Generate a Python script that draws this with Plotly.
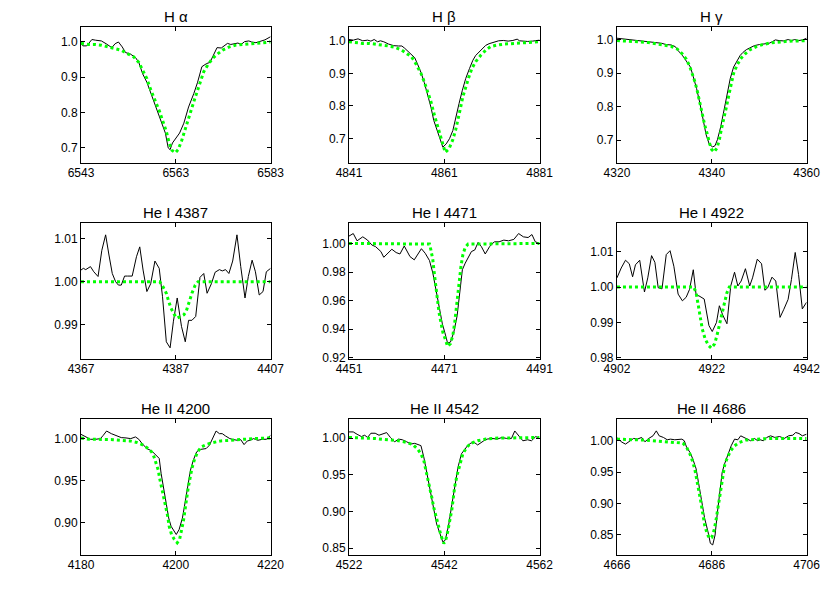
import plotly.graph_objects as go

ha_obs_x = [6543.0, 6543.4, 6544.2, 6545.3, 6546.1, 6547.3, 6548.3, 6549.5, 6550.2, 6550.9, 6551.7, 6552.4, 6553.4, 6554.5, 6555.2, 6556.0, 6556.9, 6557.9, 6558.9, 6559.9, 6560.8, 6561.4, 6561.8, 6562.3, 6563.0, 6563.8, 6564.7, 6565.7, 6566.8, 6567.6, 6568.5, 6569.5, 6570.2, 6570.9, 6571.7, 6572.6, 6573.2, 6573.9, 6574.6, 6575.3, 6576.1, 6576.8, 6577.5, 6578.4, 6579.0, 6579.9, 6580.7, 6581.8, 6583.0]
ha_obs_y = [1.000, 0.989, 0.989, 1.007, 1.005, 1.003, 0.995, 0.984, 0.995, 1.000, 0.986, 0.970, 0.966, 0.956, 0.942, 0.910, 0.886, 0.849, 0.816, 0.779, 0.742, 0.700, 0.695, 0.714, 0.728, 0.742, 0.770, 0.816, 0.854, 0.886, 0.930, 0.939, 0.942, 0.961, 0.984, 0.983, 0.989, 0.996, 0.993, 0.995, 0.997, 0.993, 1.001, 1.003, 1.000, 0.998, 1.001, 1.006, 1.015]
ha_fit_x = [6543.0, 6544.6, 6545.9, 6547.3, 6548.7, 6550.0, 6551.4, 6552.8, 6554.1, 6555.2, 6556.0, 6556.9, 6557.5, 6558.2, 6558.9, 6559.6, 6560.3, 6561.0, 6561.6, 6562.2, 6562.9, 6563.5, 6564.2, 6564.8, 6565.5, 6566.2, 6566.9, 6567.6, 6568.3, 6568.9, 6569.8, 6570.8, 6571.9, 6572.9, 6574.3, 6575.6, 6577.3, 6579.0, 6580.7, 6583.0]
ha_fit_y = [0.996, 0.993, 0.993, 0.991, 0.986, 0.982, 0.977, 0.967, 0.958, 0.942, 0.919, 0.896, 0.872, 0.849, 0.826, 0.802, 0.774, 0.747, 0.714, 0.693, 0.686, 0.695, 0.719, 0.747, 0.774, 0.805, 0.835, 0.865, 0.893, 0.916, 0.936, 0.954, 0.967, 0.977, 0.986, 0.991, 0.993, 0.995, 0.997, 1.000]

hb_obs_x = [4841.0, 4841.9, 4842.9, 4843.9, 4844.9, 4845.6, 4846.3, 4847.0, 4847.6, 4848.3, 4849.3, 4850.4, 4851.4, 4852.1, 4852.7, 4853.4, 4854.1, 4854.8, 4855.4, 4856.1, 4856.8, 4857.5, 4858.2, 4858.8, 4859.5, 4860.2, 4860.7, 4861.4, 4862.1, 4862.8, 4863.4, 4864.1, 4864.8, 4865.5, 4866.3, 4867.0, 4867.6, 4868.3, 4869.0, 4869.7, 4870.4, 4871.4, 4872.4, 4873.4, 4874.4, 4875.4, 4876.3, 4876.8, 4877.5, 4878.5, 4879.5, 4880.2, 4881.0]
hb_obs_y = [1.004, 1.002, 1.006, 1.000, 1.002, 0.999, 1.004, 0.997, 1.000, 0.997, 0.990, 0.985, 0.984, 0.984, 0.977, 0.968, 0.958, 0.948, 0.928, 0.903, 0.872, 0.837, 0.796, 0.755, 0.724, 0.699, 0.673, 0.683, 0.699, 0.724, 0.766, 0.807, 0.848, 0.884, 0.915, 0.940, 0.955, 0.966, 0.976, 0.986, 0.991, 0.996, 1.000, 1.001, 0.999, 1.001, 1.005, 1.000, 0.999, 0.998, 0.999, 1.000, 1.002]
hb_fit_x = [4841.0, 4842.6, 4843.9, 4845.3, 4846.6, 4848.0, 4849.3, 4850.7, 4852.1, 4853.1, 4854.1, 4854.8, 4855.4, 4856.1, 4856.8, 4857.5, 4858.2, 4858.8, 4859.5, 4860.2, 4860.9, 4861.2, 4862.0, 4862.8, 4863.4, 4863.9, 4864.4, 4864.9, 4865.5, 4866.2, 4866.8, 4867.6, 4868.7, 4869.7, 4870.7, 4872.1, 4873.7, 4875.4, 4877.1, 4879.2, 4881.0]
hb_fit_y = [0.997, 0.994, 0.992, 0.992, 0.990, 0.987, 0.984, 0.980, 0.971, 0.961, 0.951, 0.936, 0.920, 0.900, 0.874, 0.844, 0.813, 0.778, 0.742, 0.711, 0.675, 0.657, 0.668, 0.696, 0.727, 0.757, 0.793, 0.828, 0.859, 0.890, 0.915, 0.936, 0.956, 0.971, 0.982, 0.987, 0.990, 0.992, 0.994, 0.996, 0.997]

hg_obs_x = [4320.0, 4321.2, 4322.6, 4323.9, 4325.3, 4326.6, 4328.0, 4329.4, 4330.4, 4331.4, 4332.3, 4332.9, 4333.8, 4334.6, 4335.5, 4336.1, 4336.8, 4337.5, 4338.2, 4338.8, 4339.5, 4340.2, 4340.7, 4341.2, 4341.9, 4342.6, 4343.3, 4343.9, 4344.6, 4345.3, 4346.0, 4346.6, 4347.3, 4348.0, 4349.0, 4350.0, 4351.1, 4352.1, 4352.7, 4353.4, 4354.2, 4355.1, 4356.1, 4356.8, 4357.5, 4358.3, 4359.2, 4360.0]
hg_obs_y = [1.004, 1.002, 0.999, 0.997, 0.995, 0.994, 0.992, 0.989, 0.985, 0.984, 0.979, 0.967, 0.953, 0.938, 0.918, 0.889, 0.854, 0.810, 0.761, 0.717, 0.687, 0.680, 0.684, 0.702, 0.741, 0.790, 0.840, 0.884, 0.918, 0.938, 0.953, 0.962, 0.970, 0.975, 0.982, 0.985, 0.987, 0.989, 0.993, 0.999, 0.997, 0.996, 1.000, 0.997, 1.000, 0.997, 0.999, 1.004]
hg_fit_x = [4320.0, 4321.6, 4323.3, 4324.9, 4326.6, 4328.3, 4330.0, 4331.4, 4332.7, 4333.8, 4334.6, 4335.3, 4335.9, 4336.5, 4337.0, 4337.5, 4338.0, 4338.5, 4339.1, 4339.5, 4340.0, 4340.5, 4341.1, 4341.6, 4342.0, 4342.6, 4343.1, 4343.6, 4344.1, 4344.6, 4345.3, 4346.1, 4347.0, 4348.0, 4349.4, 4350.7, 4352.4, 4354.1, 4356.1, 4358.2, 4360.0]
hg_fit_y = [0.997, 0.995, 0.994, 0.993, 0.991, 0.987, 0.984, 0.980, 0.972, 0.957, 0.942, 0.922, 0.897, 0.872, 0.843, 0.810, 0.780, 0.746, 0.716, 0.692, 0.672, 0.665, 0.677, 0.702, 0.731, 0.766, 0.800, 0.835, 0.869, 0.899, 0.923, 0.943, 0.957, 0.969, 0.979, 0.985, 0.990, 0.993, 0.995, 0.996, 0.997]

he4387_obs_x = [4367.0, 4367.5, 4368.0, 4369.0, 4369.7, 4370.6, 4371.4, 4372.2, 4372.9, 4373.6, 4374.3, 4374.9, 4375.5, 4376.2, 4376.8, 4377.8, 4378.7, 4379.4, 4380.1, 4380.9, 4381.7, 4382.6, 4383.5, 4384.2, 4385.0, 4385.8, 4386.5, 4387.3, 4388.2, 4389.0, 4389.7, 4390.4, 4391.2, 4392.1, 4392.9, 4393.6, 4394.5, 4395.3, 4396.2, 4396.8, 4397.5, 4398.2, 4399.0, 4399.9, 4400.7, 4401.6, 4402.3, 4403.1, 4403.8, 4404.6, 4405.4, 4406.1, 4407.0]
he4387_obs_y = [1.0027, 1.0031, 1.0028, 1.0035, 1.0023, 1.0012, 1.0073, 1.0109, 1.0062, 1.0019, 1.0000, 0.9992, 0.9992, 1.0013, 1.0013, 1.0013, 1.0058, 1.0081, 1.0027, 0.9977, 0.9995, 1.0048, 1.0031, 0.9965, 0.9860, 0.9846, 0.9908, 0.9962, 0.9896, 0.9860, 0.9910, 0.9910, 0.9919, 1.0010, 1.0019, 0.9973, 0.9995, 1.0022, 1.0028, 1.0025, 1.0028, 1.0019, 1.0048, 1.0109, 1.0035, 0.9962, 1.0012, 1.0050, 1.0023, 0.9969, 0.9977, 1.0023, 1.0031]
he4387_fit_x = [4367.0, 4383.6, 4384.3, 4385.0, 4385.5, 4386.0, 4386.7, 4387.3, 4388.0, 4388.7, 4389.2, 4389.7, 4390.4, 4391.1, 4391.7, 4407.0]
he4387_fit_y = [1.0000, 1.0000, 0.9988, 0.9973, 0.9954, 0.9938, 0.9923, 0.9915, 0.9919, 0.9923, 0.9931, 0.9950, 0.9973, 0.9992, 1.0000, 1.0000]

he4471_obs_x = [4451.0, 4451.9, 4452.7, 4453.9, 4454.9, 4455.8, 4456.6, 4457.7, 4458.3, 4459.2, 4460.0, 4460.9, 4461.7, 4462.6, 4463.8, 4464.7, 4465.4, 4466.2, 4467.0, 4467.9, 4468.6, 4469.2, 4469.9, 4470.6, 4471.1, 4471.7, 4472.3, 4473.0, 4473.7, 4474.3, 4474.8, 4475.4, 4476.0, 4476.7, 4477.4, 4478.1, 4478.8, 4479.6, 4480.5, 4481.5, 4482.5, 4483.5, 4484.5, 4485.6, 4486.6, 4487.6, 4488.6, 4489.4, 4490.1, 4491.0]
he4471_obs_y = [1.0051, 1.0069, 1.0018, 1.0046, 1.0023, 0.9989, 0.9977, 0.9943, 0.9903, 0.9931, 0.9959, 0.9936, 0.9926, 0.9982, 0.9908, 0.9885, 0.9920, 0.9963, 0.9931, 0.9880, 0.9793, 0.9690, 0.9552, 0.9437, 0.9379, 0.9303, 0.9310, 0.9379, 0.9494, 0.9678, 0.9816, 0.9862, 0.9897, 0.9943, 0.9954, 1.0007, 0.9977, 0.9926, 0.9977, 1.0011, 1.0011, 1.0023, 1.0018, 1.0028, 1.0069, 1.0046, 1.0041, 1.0062, 1.0011, 1.0000]
he4471_fit_x = [4451.0, 4467.9, 4468.2, 4468.6, 4468.9, 4469.2, 4469.6, 4469.9, 4470.3, 4470.7, 4471.3, 4471.7, 4472.3, 4472.8, 4473.2, 4473.5, 4473.9, 4474.2, 4474.5, 4474.9, 4475.4, 4476.0, 4491.0]
he4471_fit_y = [1.0000, 0.9995, 0.9954, 0.9885, 0.9793, 0.9701, 0.9609, 0.9517, 0.9448, 0.9379, 0.9322, 0.9280, 0.9299, 0.9356, 0.9448, 0.9540, 0.9632, 0.9747, 0.9839, 0.9920, 0.9972, 0.9995, 1.0000]

he4922_obs_x = [4902.0, 4902.9, 4903.8, 4904.6, 4905.3, 4905.9, 4906.8, 4907.8, 4908.5, 4909.3, 4910.0, 4910.7, 4911.5, 4912.4, 4913.2, 4914.0, 4914.9, 4915.8, 4916.6, 4917.3, 4918.1, 4918.7, 4919.3, 4920.4, 4921.4, 4922.1, 4923.0, 4923.6, 4924.3, 4925.2, 4926.0, 4926.8, 4927.5, 4928.2, 4929.1, 4930.0, 4930.6, 4931.6, 4932.5, 4933.2, 4933.8, 4934.7, 4935.5, 4936.4, 4937.2, 4938.1, 4938.8, 4939.6, 4940.3, 4941.1, 4942.0]
he4922_obs_y = [1.0026, 1.0054, 1.0076, 1.0066, 1.0029, 1.0063, 1.0076, 0.9986, 1.0026, 1.0089, 1.0070, 0.9998, 0.9995, 1.0092, 1.0103, 1.0059, 0.9980, 0.9961, 0.9971, 0.9993, 1.0049, 0.9977, 0.9975, 0.9966, 0.9891, 0.9874, 0.9900, 0.9947, 0.9921, 0.9896, 1.0003, 1.0042, 1.0003, 1.0017, 1.0052, 1.0003, 1.0026, 1.0079, 1.0066, 0.9991, 0.9998, 1.0028, 1.0017, 0.9914, 0.9937, 0.9965, 1.0021, 1.0098, 1.0036, 0.9938, 0.9957]
he4922_fit_x = [4902.0, 4918.2, 4918.7, 4919.1, 4919.6, 4920.0, 4920.6, 4921.3, 4921.9, 4922.6, 4923.1, 4923.6, 4924.1, 4924.7, 4925.2, 4925.7, 4942.0]
he4922_fit_y = [1.0000, 1.0000, 0.9984, 0.9951, 0.9914, 0.9881, 0.9853, 0.9835, 0.9827, 0.9839, 0.9863, 0.9895, 0.9923, 0.9956, 0.9984, 1.0000, 1.0000]

he4200_obs_x = [4180.0, 4181.0, 4182.0, 4183.1, 4184.1, 4184.7, 4185.4, 4186.4, 4187.5, 4188.5, 4189.5, 4190.5, 4191.5, 4192.2, 4192.9, 4193.9, 4194.9, 4195.9, 4196.5, 4196.9, 4197.4, 4198.0, 4198.5, 4199.0, 4199.7, 4200.1, 4200.7, 4201.4, 4202.0, 4202.6, 4203.1, 4203.7, 4204.4, 4205.1, 4205.8, 4206.4, 4207.1, 4207.8, 4208.5, 4209.2, 4209.8, 4210.5, 4211.4, 4212.2, 4213.0, 4213.7, 4214.4, 4215.1, 4215.7, 4216.4, 4217.3, 4218.3, 4219.1, 4220.0]
he4200_obs_y = [1.0051, 1.0020, 0.9992, 0.9992, 1.0000, 1.0039, 1.0090, 1.0059, 1.0031, 1.0012, 1.0008, 1.0000, 1.0020, 0.9992, 0.9941, 0.9882, 0.9855, 0.9804, 0.9765, 0.9588, 0.9412, 0.9216, 0.9059, 0.8961, 0.8902, 0.8863, 0.8922, 0.9059, 0.9255, 0.9451, 0.9627, 0.9745, 0.9843, 0.9871, 0.9875, 0.9882, 0.9922, 1.0000, 1.0090, 1.0059, 1.0059, 1.0031, 1.0000, 0.9988, 0.9980, 0.9988, 0.9929, 0.9973, 0.9980, 1.0000, 0.9980, 0.9992, 0.9992, 1.0039]
he4200_fit_x = [4180.0, 4181.7, 4183.4, 4185.1, 4186.8, 4188.5, 4190.2, 4191.9, 4193.2, 4194.2, 4194.9, 4195.4, 4195.9, 4196.3, 4196.6, 4197.0, 4197.4, 4197.8, 4198.3, 4198.6, 4199.1, 4199.7, 4200.3, 4200.8, 4201.2, 4201.6, 4201.9, 4202.2, 4202.6, 4203.0, 4203.4, 4203.9, 4204.6, 4205.4, 4206.4, 4207.8, 4209.5, 4211.5, 4213.6, 4216.3, 4220.0]
he4200_fit_y = [1.0008, 0.9992, 0.9992, 0.9992, 0.9988, 0.9980, 0.9973, 0.9953, 0.9922, 0.9882, 0.9843, 0.9784, 0.9706, 0.9627, 0.9529, 0.9431, 0.9314, 0.9196, 0.9078, 0.8961, 0.8863, 0.8804, 0.8765, 0.8804, 0.8902, 0.9020, 0.9137, 0.9275, 0.9412, 0.9529, 0.9647, 0.9745, 0.9843, 0.9902, 0.9929, 0.9953, 0.9973, 0.9980, 0.9992, 1.0000, 1.0008]

he4542_obs_x = [4522.0, 4522.9, 4523.7, 4524.6, 4525.3, 4525.9, 4526.6, 4527.5, 4528.3, 4529.1, 4529.9, 4530.7, 4531.6, 4532.4, 4533.2, 4534.1, 4535.0, 4535.8, 4536.6, 4537.1, 4537.7, 4538.3, 4539.0, 4539.7, 4540.4, 4541.1, 4541.7, 4542.2, 4542.9, 4543.6, 4544.2, 4544.9, 4545.6, 4546.3, 4546.9, 4547.6, 4548.3, 4549.0, 4549.7, 4550.3, 4551.0, 4552.0, 4553.1, 4554.1, 4555.1, 4556.1, 4556.8, 4557.6, 4558.5, 4559.5, 4560.3, 4561.2, 4562.0]
he4542_obs_y = [1.0085, 1.0085, 1.0053, 1.0022, 1.0040, 1.0009, 1.0067, 1.0067, 1.0040, 1.0053, 1.0076, 1.0009, 0.9951, 0.9987, 0.9978, 0.9951, 0.9920, 0.9929, 0.9911, 0.9898, 0.9742, 0.9541, 0.9296, 0.9030, 0.8829, 0.8696, 0.8584, 0.8607, 0.8807, 0.9097, 0.9363, 0.9608, 0.9786, 0.9853, 0.9898, 0.9933, 0.9942, 0.9907, 0.9942, 0.9964, 0.9987, 0.9996, 0.9987, 1.0009, 0.9996, 0.9996, 1.0098, 1.0040, 0.9964, 0.9978, 0.9964, 1.0022, 0.9996]
he4542_fit_x = [4522.0, 4523.9, 4525.6, 4527.3, 4529.0, 4530.7, 4532.4, 4534.1, 4535.4, 4536.4, 4537.1, 4537.7, 4538.1, 4538.6, 4539.0, 4539.4, 4539.8, 4540.3, 4540.8, 4541.3, 4541.9, 4542.3, 4542.7, 4543.2, 4543.6, 4543.9, 4544.2, 4544.7, 4545.3, 4545.9, 4546.7, 4547.6, 4549.0, 4550.7, 4552.7, 4555.4, 4558.1, 4562.0]
he4542_fit_y = [1.0009, 1.0000, 1.0000, 0.9996, 0.9987, 0.9978, 0.9964, 0.9942, 0.9911, 0.9853, 0.9786, 0.9697, 0.9586, 0.9452, 0.9318, 0.9185, 0.9052, 0.8918, 0.8785, 0.8673, 0.8562, 0.8607, 0.8718, 0.8874, 0.9030, 0.9185, 0.9341, 0.9497, 0.9653, 0.9786, 0.9875, 0.9929, 0.9964, 0.9987, 1.0000, 1.0004, 1.0004, 1.0009]

he4686_obs_x = [4666.0, 4666.9, 4667.8, 4668.6, 4669.5, 4670.3, 4671.2, 4671.9, 4672.7, 4673.6, 4674.3, 4674.9, 4675.8, 4676.6, 4677.3, 4678.2, 4678.8, 4679.7, 4680.2, 4680.7, 4681.4, 4682.0, 4682.7, 4683.3, 4683.8, 4684.5, 4685.2, 4685.7, 4686.2, 4686.7, 4687.2, 4687.7, 4688.2, 4688.7, 4689.4, 4690.1, 4690.8, 4691.5, 4692.1, 4692.8, 4693.5, 4694.2, 4695.0, 4695.7, 4696.2, 4696.9, 4697.6, 4698.4, 4699.3, 4700.3, 4701.3, 4702.2, 4703.1, 4703.7, 4704.4, 4705.1, 4706.0]
he4686_obs_y = [1.0053, 0.9984, 0.9947, 0.9984, 1.0037, 1.0026, 1.0053, 0.9984, 1.0037, 1.0079, 1.0158, 1.0079, 1.0053, 1.0016, 1.0026, 1.0016, 1.0016, 1.0026, 1.0000, 0.9895, 0.9816, 0.9711, 0.9553, 0.9289, 0.9026, 0.8763, 0.8553, 0.8368, 0.8342, 0.8500, 0.8868, 0.9184, 0.9500, 0.9632, 0.9789, 0.9921, 1.0026, 1.0016, 1.0079, 1.0053, 1.0037, 1.0000, 1.0037, 1.0000, 1.0016, 1.0000, 1.0053, 1.0079, 1.0053, 1.0068, 1.0037, 1.0079, 1.0089, 1.0132, 1.0116, 1.0079, 1.0105]
he4686_fit_x = [4666.0, 4667.9, 4670.0, 4672.0, 4674.0, 4676.1, 4678.2, 4679.9, 4680.7, 4681.4, 4681.9, 4682.4, 4682.8, 4683.3, 4683.7, 4684.1, 4684.5, 4685.0, 4685.5, 4686.0, 4686.5, 4686.9, 4687.2, 4687.6, 4687.9, 4688.3, 4688.7, 4689.3, 4690.0, 4690.8, 4691.8, 4693.2, 4694.9, 4696.9, 4699.0, 4701.0, 4703.7, 4706.0]
he4686_fit_y = [1.0026, 1.0016, 1.0016, 1.0011, 1.0000, 0.9989, 0.9984, 0.9963, 0.9895, 0.9789, 0.9684, 0.9553, 0.9395, 0.9211, 0.9026, 0.8842, 0.8658, 0.8526, 0.8447, 0.8463, 0.8579, 0.8737, 0.8895, 0.9079, 0.9263, 0.9447, 0.9605, 0.9737, 0.9842, 0.9921, 0.9974, 1.0011, 1.0026, 1.0032, 1.0037, 1.0037, 1.0037, 1.0037]

titles = ["H α", "H β", "H γ", "He I 4387", "He I 4471", "He I 4922", "He II 4200", "He II 4542", "He II 4686"]
x_ticks = [[6543, 6563, 6583], [4841, 4861, 4881], [4320, 4340, 4360],
           [4367, 4387, 4407], [4451, 4471, 4491], [4902, 4922, 4942],
           [4180, 4200, 4220], [4522, 4542, 4562], [4666, 4686, 4706]]
y_ticks = [[0.7, 0.8, 0.9, 1.0], [0.7, 0.8, 0.9, 1.0], [0.7, 0.8, 0.9, 1.0],
           [0.99, 1.00, 1.01], [0.92, 0.94, 0.96, 0.98, 1.00], [0.98, 0.99, 1.00, 1.01],
           [0.90, 0.95, 1.00], [0.85, 0.90, 0.95, 1.00], [0.85, 0.90, 0.95, 1.00]]
y_fmt = [".1f"] * 3 + [".2f"] * 6
y_ranges = [[0.656, 1.043], [0.623, 1.043], [0.631, 1.038],
            [0.9819, 1.0137], [0.9189, 1.0144], [0.9795, 1.0182],
            [0.8615, 1.0235], [0.840, 1.0264], [0.8175, 1.035]]

observed = [(ha_obs_x, ha_obs_y), (hb_obs_x, hb_obs_y), (hg_obs_x, hg_obs_y),
            (he4387_obs_x, he4387_obs_y), (he4471_obs_x, he4471_obs_y), (he4922_obs_x, he4922_obs_y),
            (he4200_obs_x, he4200_obs_y), (he4542_obs_x, he4542_obs_y), (he4686_obs_x, he4686_obs_y)]
fits = [(ha_fit_x, ha_fit_y), (hb_fit_x, hb_fit_y), (hg_fit_x, hg_fit_y),
        (he4387_fit_x, he4387_fit_y), (he4471_fit_x, he4471_fit_y), (he4922_fit_x, he4922_fit_y),
        (he4200_fit_x, he4200_fit_y), (he4542_fit_x, he4542_fit_y), (he4686_fit_x, he4686_fit_y)]

W, H = 830, 593
col_px = [(62, 258), (339, 536), (616, 812)]
row_px = [(19, 157), (217, 355), (415, 553)]

font = "Liberation Sans, Arial, Helvetica, sans-serif"
fig = go.Figure()
layout = dict(width=W, height=H, margin=dict(l=0, r=0, t=0, b=0),
              plot_bgcolor="white", paper_bgcolor="white", showlegend=False,
              font=dict(family=font, size=12, color="black"), annotations=[])

for i in range(9):
    r, c = divmod(i, 3)
    n = "" if i == 0 else str(i + 1)
    xa, ya = "x" + n, "y" + n
    ox, oy = observed[i]
    fx, fy = fits[i]
    fig.add_trace(go.Scatter(x=ox, y=oy, mode="lines", line=dict(color="black", width=1),
                             xaxis=xa, yaxis=ya))
    fig.add_trace(go.Scatter(x=fx, y=fy, mode="lines", line=dict(color="#00ff00", width=3, dash="dot"),
                             xaxis=xa, yaxis=ya))
    x0, x1 = col_px[c]
    y0, y1 = row_px[r]
    common = dict(showline=True, linecolor="black", linewidth=1, mirror="ticks",
                  ticks="inside", ticklen=4, tickcolor="black", showgrid=False,
                  zeroline=False, tickfont=dict(family=font, size=12, color="black"))
    layout["xaxis" + n] = dict(common, domain=[x0 / W, x1 / W], anchor=ya,
                               range=[x_ticks[i][0], x_ticks[i][-1]],
                               tickvals=x_ticks[i], ticktext=[str(v) for v in x_ticks[i]],
                               ticklabelstandoff=-2)
    layout["yaxis" + n] = dict(common, domain=[1 - y1 / H, 1 - y0 / H], anchor=xa,
                               range=y_ranges[i], tickvals=y_ticks[i], tickformat=y_fmt[i])
    layout["annotations"].append(dict(text=titles[i], x=(x0 + x1) / 2 / W, y=1 - y0 / H,
                                      xref="paper", yref="paper", xanchor="center", yanchor="bottom",
                                      yshift=0, showarrow=False,
                                      font=dict(family=font, size=15, color="black")))

fig.update_layout(**layout)
fig.write_html("out.html")
